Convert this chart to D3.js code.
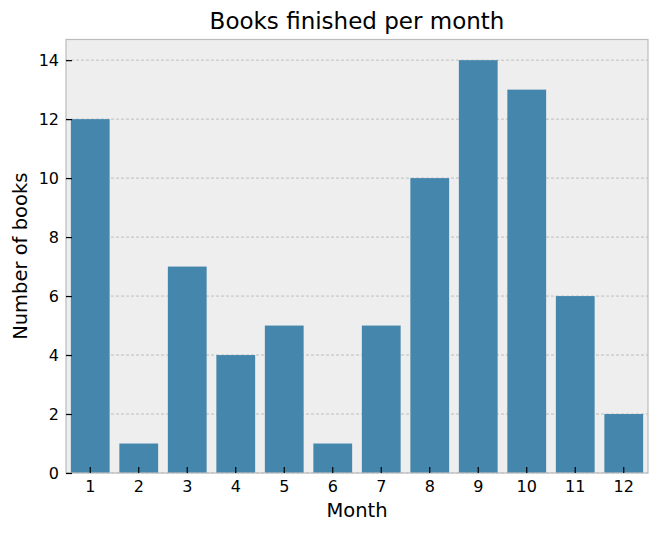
<!DOCTYPE html>
<html>
<head>
<meta charset="utf-8">
<script src="https://cdn.jsdelivr.net/npm/d3@7"></script>
<style>
  body { margin: 0; background: #fff; }
  text { font-family: "DejaVu Sans", sans-serif; fill: #000; }
</style>
</head>
<body>
<div id="chart"></div>
<script>
// Chart data
const months = ["1", "2", "3", "4", "5", "6", "7", "8", "9", "10", "11", "12"];
const booksFinished = [12, 1, 7, 4, 5, 1, 5, 10, 14, 13, 6, 2];
const yTicks = [0, 2, 4, 6, 8, 10, 12, 14];

const width = 660;
const height = 534;
const margin = { top: 39.5, right: 12, bottom: 61, left: 66 };
const plotW = width - margin.left - margin.right;
const plotH = height - margin.top - margin.bottom;

const svg = d3.select("#chart")
  .append("svg")
  .attr("width", width)
  .attr("height", height);

const g = svg.append("g")
  .attr("transform", `translate(${margin.left},${margin.top})`);

// Scales
const x = d3.scaleBand()
  .domain(months)
  .range([0, plotW])
  .paddingInner(0.2)
  .paddingOuter(0.1);

const y = d3.scaleLinear()
  .domain([0, d3.max(booksFinished) * 1.05])
  .range([plotH, 0]);

// Background
g.append("rect")
  .attr("width", plotW)
  .attr("height", plotH)
  .attr("fill", "#eeeeee");

// Horizontal grid
g.selectAll(".grid")
  .data(yTicks)
  .enter()
  .append("line")
  .attr("x1", 0)
  .attr("x2", plotW)
  .attr("y1", d => y(d))
  .attr("y2", d => y(d))
  .attr("stroke", "#b2b2b2")
  .attr("stroke-width", 0.8)
  .attr("stroke-dasharray", "3,2");

// Bars
g.selectAll(".bar")
  .data(booksFinished)
  .enter()
  .append("rect")
  .attr("x", (d, i) => x(months[i]))
  .attr("y", d => y(d))
  .attr("width", x.bandwidth())
  .attr("height", d => plotH - y(d))
  .attr("fill", "#4587ac");

// Frame
g.append("rect")
  .attr("width", plotW)
  .attr("height", plotH)
  .attr("fill", "none")
  .attr("stroke", "#bcbcbc")
  .attr("stroke-width", 1.2);

// Axes with inward ticks
const xAxis = d3.axisBottom(x).tickSizeInner(-6).tickSizeOuter(0).tickPadding(7.5);
const gx = g.append("g")
  .attr("transform", `translate(0,${plotH})`)
  .call(xAxis);
gx.select(".domain").remove();
gx.selectAll("line").attr("stroke", "#000").attr("stroke-width", 1.2);
gx.selectAll("text").attr("font-size", 16).attr("fill", "#000");

const yAxis = d3.axisLeft(y).tickValues(yTicks).tickSizeInner(-6).tickSizeOuter(0).tickPadding(7);
const gy = g.append("g").call(yAxis);
gy.select(".domain").remove();
gy.selectAll("line").attr("stroke", "#000").attr("stroke-width", 1.2);
gy.selectAll("text").attr("font-size", 16).attr("fill", "#000");

// Title and labels
svg.append("text")
  .attr("x", margin.left + plotW / 2)
  .attr("y", 29)
  .attr("text-anchor", "middle")
  .attr("font-size", 23)
  .text("Books finished per month");

svg.append("text")
  .attr("x", margin.left + plotW / 2)
  .attr("y", 517)
  .attr("text-anchor", "middle")
  .attr("font-size", 19.5)
  .text("Month");

svg.append("text")
  .attr("transform", `translate(27,${margin.top + plotH / 2}) rotate(-90)`)
  .attr("text-anchor", "middle")
  .attr("font-size", 19.5)
  .text("Number of books");
</script>
</body>
</html>
